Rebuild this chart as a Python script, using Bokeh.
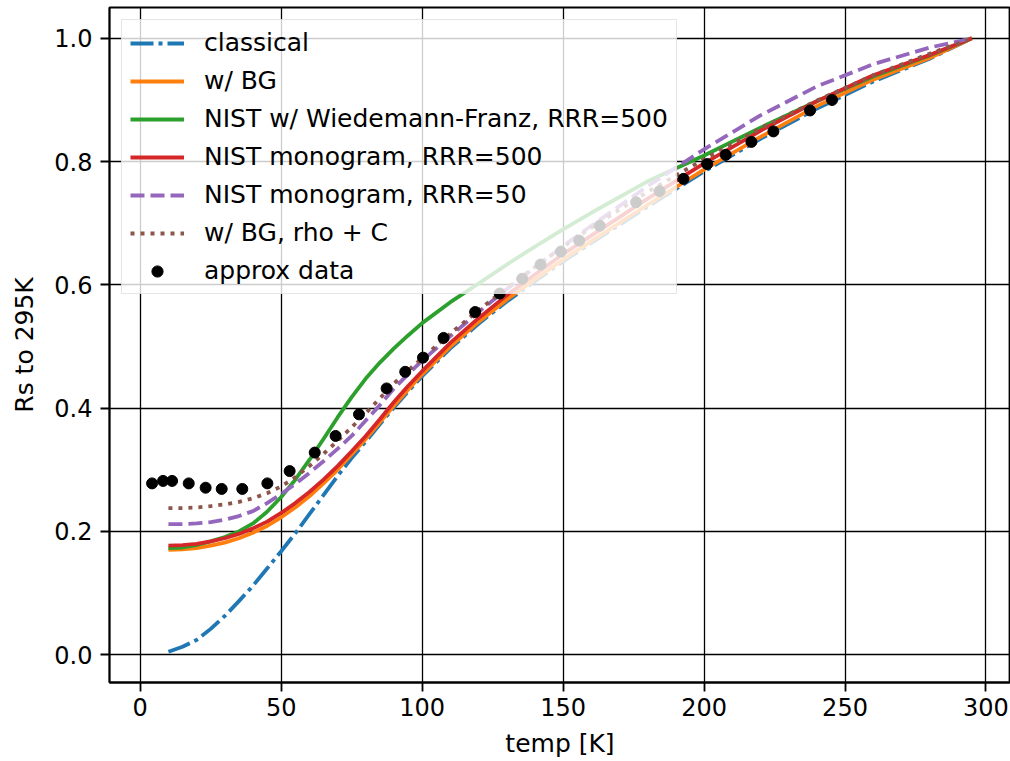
from bokeh.plotting import figure
from bokeh.models import Range1d, FixedTicker, PrintfTickFormatter
from bokeh.embed import file_html
from bokeh.resources import INLINE

# ---- data ----
temp = [10, 15, 20, 25, 30, 35, 40, 45, 50, 55, 60, 65, 70, 75, 80, 85, 90, 95, 100,
        110, 120, 130, 140, 150, 160, 180, 200, 220, 240, 260, 280, 295]

classical = [0.005, 0.013, 0.024, 0.042, 0.063, 0.087, 0.112, 0.140, 0.168, 0.197, 0.228,
             0.259, 0.290, 0.319, 0.346, 0.374, 0.401, 0.427, 0.452,
             0.497, 0.537, 0.573, 0.606, 0.638, 0.668, 0.727, 0.784, 0.837, 0.886, 0.930, 0.967, 1.0]

w_bg = [0.170, 0.171, 0.173, 0.177, 0.182, 0.189, 0.198, 0.209, 0.223, 0.239, 0.257,
        0.278, 0.300, 0.325, 0.350, 0.377, 0.404, 0.430, 0.455,
        0.500, 0.540, 0.576, 0.609, 0.641, 0.671, 0.730, 0.787, 0.840, 0.890, 0.933, 0.968, 1.0]

nist_wf = [0.173, 0.174, 0.178, 0.184, 0.191, 0.200, 0.213, 0.232, 0.256, 0.284, 0.316,
           0.350, 0.385, 0.418, 0.448, 0.474, 0.497, 0.518, 0.538,
           0.572, 0.602, 0.633, 0.662, 0.690, 0.717, 0.768, 0.810, 0.855, 0.898, 0.938, 0.972, 1.0]

nist_500 = [0.177, 0.178, 0.180, 0.184, 0.189, 0.196, 0.205, 0.216, 0.230, 0.246, 0.264,
            0.284, 0.306, 0.330, 0.355, 0.382, 0.410, 0.436, 0.460,
            0.506, 0.546, 0.583, 0.617, 0.650, 0.680, 0.740, 0.797, 0.850, 0.898, 0.940, 0.973, 1.0]

nist_50 = [0.212, 0.212, 0.213, 0.215, 0.219, 0.225, 0.233, 0.246, 0.261, 0.277, 0.295,
           0.314, 0.334, 0.355, 0.380, 0.405, 0.432, 0.455, 0.477,
           0.517, 0.556, 0.593, 0.628, 0.663, 0.696, 0.760, 0.820, 0.875, 0.922, 0.958, 0.985, 1.0]

bg_rho_c = [0.238, 0.238, 0.239, 0.241, 0.244, 0.248, 0.254, 0.262, 0.273, 0.288, 0.306,
            0.326, 0.347, 0.369, 0.392, 0.416, 0.440, 0.461, 0.481,
            0.521, 0.559, 0.595, 0.629, 0.662, 0.693, 0.751, 0.804, 0.854, 0.899, 0.940, 0.975, 1.0]

data_T = [4.2, 8.1, 11.3, 17.2, 23.2, 28.9, 36.2, 45.1, 53.0, 61.9, 69.3, 77.6, 87.4, 94.0,
          100.3, 107.6, 118.8, 127.5, 135.5, 142.0, 149.2, 155.7, 163.0, 175.9, 184.2, 192.7,
          201.1, 207.7, 216.8, 224.6, 237.6, 245.4]
data_R = [0.278, 0.282, 0.282, 0.278, 0.271, 0.269, 0.269, 0.278, 0.298, 0.328, 0.355, 0.390,
          0.432, 0.459, 0.482, 0.514, 0.556, 0.586, 0.610, 0.633, 0.654, 0.672, 0.696, 0.734,
          0.752, 0.772, 0.796, 0.811, 0.832, 0.849, 0.883, 0.900]

x_ticks = [0, 50, 100, 150, 200, 250, 300]
y_ticks = [0.0, 0.2, 0.4, 0.6, 0.8, 1.0]

FONT = "DejaVu Sans"
LW = 3.8

p = figure(width=1010, height=761, output_backend="svg", toolbar_location=None,
           x_range=Range1d(-10.9, 308.7), y_range=Range1d(-0.045, 1.05),
           min_border_left=109, min_border_right=0, min_border_top=7, min_border_bottom=79)

p.line(temp, classical, line_color="#1f77b4", line_width=LW, line_dash="23 5 4 5",
       legend_label="classical")
p.line(temp, w_bg, line_color="#ff7f0e", line_width=LW, legend_label="w/ BG")
p.line(temp, nist_wf, line_color="#2ca02c", line_width=LW,
       legend_label="NIST w/ Wiedemann-Franz, RRR=500")
p.line(temp, nist_500, line_color="#d62728", line_width=LW,
       legend_label="NIST monogram, RRR=500")
p.line(temp, nist_50, line_color="#9467bd", line_width=LW, line_dash="14 6",
       legend_label="NIST monogram, RRR=50")
p.line(temp, bg_rho_c, line_color="#8c564b", line_width=LW, line_dash="4 6",
       legend_label="w/ BG, rho + C")
p.scatter(data_T, data_R, size=11, fill_color="black", line_color="black",
          legend_label="approx data")

# grid / frame
p.grid.grid_line_color = "black"
p.grid.grid_line_width = 1.3
p.outline_line_color = "black"
p.outline_line_width = 1.8
p.background_fill_color = "white"
p.border_fill_color = "white"

p.xaxis.ticker = FixedTicker(ticks=x_ticks)
p.yaxis.ticker = FixedTicker(ticks=y_ticks)
p.xaxis.formatter = PrintfTickFormatter(format="%d")
p.yaxis.formatter = PrintfTickFormatter(format="%.1f")

for ax in (p.xaxis, p.yaxis):
    ax.axis_line_color = "black"
    ax.axis_line_width = 1.8
    ax.major_tick_line_color = "black"
    ax.major_tick_line_width = 1.8
    ax.major_tick_out = 9
    ax.major_tick_in = 0
    ax.minor_tick_line_color = None
    ax.major_label_text_font = FONT
    ax.major_label_text_font_size = "24px"
    ax.major_label_text_color = "black"
    ax.axis_label_text_font = FONT
    ax.axis_label_text_font_size = "25px"
    ax.axis_label_text_font_style = "normal"
    ax.axis_label_text_color = "black"

p.xaxis.axis_label = "temp [K]"
p.yaxis.axis_label = "Rs to 295K"
p.xaxis.major_label_standoff = 6
p.yaxis.major_label_standoff = 8
p.xaxis.axis_label_standoff = 10
p.yaxis.axis_label_standoff = 12

lg = p.legend[0]
lg.location = "top_left"
lg.margin = 12
lg.padding = 8
lg.spacing = 9
lg.label_height = 28
lg.glyph_height = 28
lg.glyph_width = 54
lg.label_standoff = 20
lg.label_text_font = FONT
lg.label_text_font_size = "25px"
lg.label_text_color = "black"
lg.background_fill_color = "white"
lg.background_fill_alpha = 0.8
lg.border_line_color = "#cccccc"
lg.border_line_width = 1.5

open("out.html", "w").write(file_html(p, INLINE))
